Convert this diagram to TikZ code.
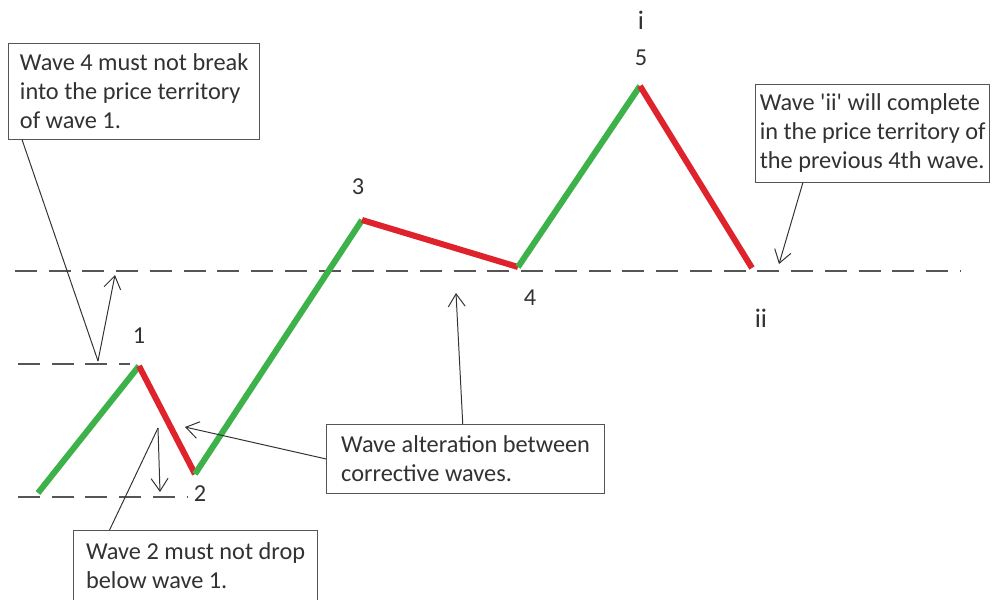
\documentclass[tikz,border=0pt]{standalone}
\usepackage{fontspec}
\setmainfont{Carlito}
\usetikzlibrary{arrows.meta}
\definecolor{upgreen}{RGB}{61,178,74}
\definecolor{downred}{RGB}{222,35,45}
\definecolor{ink}{RGB}{50,50,50}
\definecolor{rulegray}{RGB}{85,85,85}

\begin{document}
\begin{tikzpicture}[x=0.025cm,y=-0.025cm,
  txt/.style={font=\fontsize{17.3}{20.6}\selectfont,text=ink},
  note/.style={txt,draw=rulegray,line width=0.8pt,fill=white,align=left,anchor=north west,inner sep=0pt},
  lbl/.style={txt,inner sep=0pt},
  up/.style={upgreen,line width=4.3pt},
  down/.style={downred,line width=4.3pt},
  level/.style={rulegray,line width=1.1pt,dash pattern=on 15.5pt off 8.5pt},
  ptr/.style={-{Straight Barb[length=9pt,width=12pt]},ink,line width=0.7pt},
  leg/.style={ink,line width=0.7pt}]
\useasboundingbox (0,0) rectangle (992,599);

% price levels
\draw[level] (15,271) -- (960,271);
\draw[level] (18,364) -- (130,364);
\draw[level] (18,497) -- (188,497);

% the impulse and its corrections
\coordinate (w0) at (38,493);
\coordinate (w1) at (139,366);
\coordinate (w2) at (195,474);
\coordinate (w3) at (362,220);
\coordinate (w4) at (518,267);
\coordinate (w5) at (640,86);
\coordinate (wii) at (752,268);
\draw[up] (w0) -- (w1); \draw[down] (w1) -- (w2);
\draw[up] (w2) -- (w3); \draw[down] (w3) -- (w4);
\draw[up] (w4) -- (w5); \draw[down] (w5) -- (wii);

\node[lbl] (n1) at (139,336) {1};
\node[lbl] (n2) at (200,494) {2};
\node[lbl] (n3) at (358,187) {3};
\node[lbl] (n4) at (530,298) {4};
\node[lbl] (n5) at (641,58) {5};
\node[lbl,font=\fontsize{19}{22}\selectfont] (ni) at (641,20) {i};
\node[lbl,font=\fontsize{19}{22}\selectfont] (nii) at (761,318) {ii};

% rule boxes
\node[note,minimum width=178.6pt,minimum height=68pt] (rule4) at (8,43)
  {Wave 4 must not break\\into the price territory\\of wave 1.};
\node[note,minimum width=166.5pt,minimum height=69.5pt] (ruleii) at (755,84)
  {Wave \textquotesingle ii\textquotesingle{} will complete\\in the price territory of\\the previous 4th wave.};
\node[note,minimum width=197.7pt,minimum height=48.9pt] (alt) at (326,424)
  {Wave alteration between\\corrective waves.};
\node[note,minimum width=173.6pt,minimum height=50pt] (rule2) at (73,530)
  {Wave 2 must not drop\\below wave 1.};

% pointers
\coordinate (k4) at (98,361);
\coordinate (t4) at (115,275);
\draw[leg] ([xshift=10pt]rule4.south west) -- (k4);
\draw[ptr] (k4) -- (t4);
\coordinate (k2) at (158,428);
\coordinate (t2) at (160,492);
\draw[leg] ([xshift=26pt]rule2.north west) -- (k2);
\draw[ptr] (k2) -- (t2);
\coordinate (ta) at (185,427);
\coordinate (tb) at (456,293);
\draw[ptr] (alt.west) -- (ta);
\draw[ptr] ([xshift=-2pt]alt.north) -- (tb);
\coordinate (tii) at (779,264);
\draw[ptr] ([xshift=34pt]ruleii.south west) -- (tii);
\end{tikzpicture}
\end{document}
